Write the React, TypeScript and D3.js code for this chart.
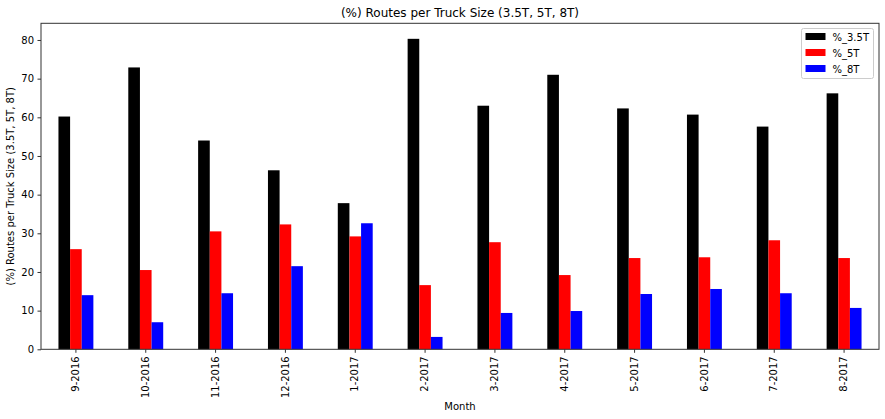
import { useEffect, useRef } from "react";
import * as d3 from "d3";

const months = [
  "9-2016", "10-2016", "11-2016", "12-2016", "1-2017", "2-2017",
  "3-2017", "4-2017", "5-2017", "6-2017", "7-2017", "8-2017",
];
const pct35 = [60.2, 72.9, 54.0, 46.3, 37.8, 80.3, 63.0, 71.0, 62.3, 60.7, 57.6, 66.2];
const pct5 = [25.9, 20.5, 30.5, 32.3, 29.2, 16.6, 27.7, 19.2, 23.6, 23.8, 28.2, 23.6];
const pct8 = [14.0, 7.0, 14.5, 21.5, 32.6, 3.2, 9.4, 9.9, 14.3, 15.6, 14.5, 10.7];
const seriesNames = ["%_3.5T", "%_5T", "%_8T"];
const seriesColors = ["#000000", "#ff0000", "#0000ff"];
const yTicks = [0, 10, 20, 30, 40, 50, 60, 70, 80];

const W = 885;
const H = 419;

function App() {
  const ref = useRef<SVGSVGElement>(null);

  useEffect(() => {
    const svg = d3.select(ref.current);
    svg.selectAll("*").remove();
    const margin = { top: 23.3, right: 6, bottom: 69.7, left: 41 };
    const font = "DejaVu Sans, sans-serif";
    const axisColor = "#333";
    const series = [pct35, pct5, pct8];

    const x = d3
      .scaleBand()
      .domain(months)
      .range([margin.left, W - margin.right])
      .paddingInner(0.5)
      .paddingOuter(0.25);

    const xs = d3
      .scaleBand()
      .domain(seriesNames)
      .range([0, x.bandwidth()]);

    const yMax = d3.max(series.flat()) || 0;
    const y = d3
      .scaleLinear()
      .domain([0, yMax * 1.05])
      .range([H - margin.bottom, margin.top]);

    const g = svg.append("g");

    series.forEach((vals, si) => {
      g.selectAll(`.bar-${si}`)
        .data(vals)
        .join("rect")
        .attr("class", `bar-${si}`)
        .attr("x", (_, i) => (x(months[i]) ?? 0) + (xs(seriesNames[si]) ?? 0))
        .attr("y", (d) => y(d))
        .attr("width", xs.bandwidth())
        .attr("height", (d) => y(0) - y(d))
        .attr("fill", seriesColors[si]);
    });

    const yAxis = svg
      .append("g")
      .attr("transform", `translate(${margin.left},0)`)
      .call(d3.axisLeft(y).tickValues(yTicks).tickSize(3.5).tickPadding(3.5));
    yAxis.select(".domain").remove();
    yAxis.selectAll("line").attr("stroke", axisColor);
    yAxis.selectAll("text").attr("font-family", font).attr("font-size", 10).attr("fill", "#000");

    const xAxis = svg
      .append("g")
      .attr("transform", `translate(0,${H - margin.bottom})`)
      .call(d3.axisBottom(x).tickSize(3.5).tickPadding(3.5));
    xAxis.select(".domain").remove();
    xAxis.selectAll("line").attr("stroke", axisColor);
    xAxis
      .selectAll("text")
      .attr("font-family", font)
      .attr("font-size", 10)
      .attr("fill", "#000")
      .attr("transform", "rotate(-90)")
      .attr("text-anchor", "end")
      .attr("dy", "0.32em")
      .attr("x", -7)
      .attr("y", 0);

    svg
      .append("rect")
      .attr("x", margin.left)
      .attr("y", margin.top)
      .attr("width", W - margin.left - margin.right)
      .attr("height", H - margin.top - margin.bottom)
      .attr("fill", "none")
      .attr("stroke", axisColor)
      .attr("stroke-width", 1);

    svg
      .append("text")
      .attr("x", (margin.left + W - margin.right) / 2)
      .attr("y", 17)
      .attr("text-anchor", "middle")
      .attr("font-family", font)
      .attr("font-size", 12)
      .text("(%) Routes per Truck Size (3.5T, 5T, 8T)");

    svg
      .append("text")
      .attr("x", (margin.left + W - margin.right) / 2)
      .attr("y", 410)
      .attr("text-anchor", "middle")
      .attr("font-family", font)
      .attr("font-size", 10)
      .text("Month");

    svg
      .append("text")
      .attr("transform", `translate(14,${(margin.top + H - margin.bottom) / 2}) rotate(-90)`)
      .attr("text-anchor", "middle")
      .attr("font-family", font)
      .attr("font-size", 10)
      .text("(%) Routes per Truck Size (3.5T, 5T, 8T)");

    const legend = svg.append("g").attr("transform", "translate(801.5,28.5)");
    legend
      .append("rect")
      .attr("width", 72)
      .attr("height", 50)
      .attr("rx", 2)
      .attr("fill", "#fff")
      .attr("fill-opacity", 0.8)
      .attr("stroke", "#ccc");
    seriesNames.forEach((name, i) => {
      const row = legend.append("g").attr("transform", `translate(0,${8.5 + i * 16})`);
      row.append("rect").attr("x", 4).attr("y", -4).attr("width", 20).attr("height", 7).attr("fill", seriesColors[i]);
      row
        .append("text")
        .attr("x", 31)
        .attr("y", 0)
        .attr("dy", "0.35em")
        .attr("font-family", font)
        .attr("font-size", 10)
        .text(name);
    });
  }, []);

  return (
    <svg
      ref={ref}
      width={W}
      height={H}
      style={{ position: "absolute", left: 0, top: 0, background: "#fff" }}
    />
  );
}

export default App;
